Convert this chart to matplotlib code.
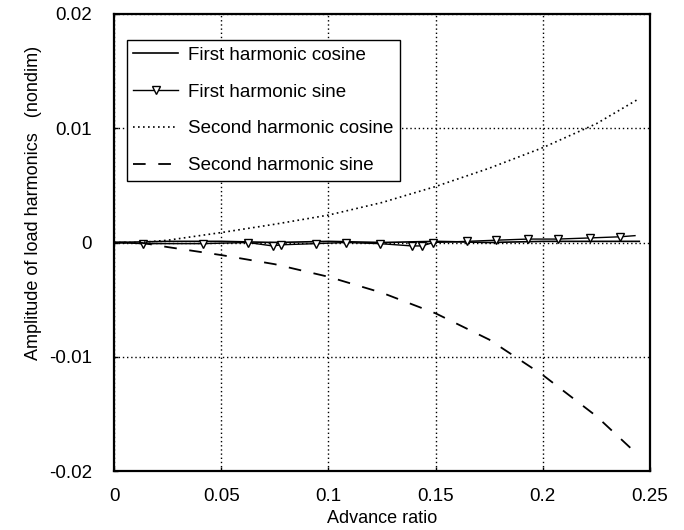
import matplotlib
matplotlib.use("Agg")
import matplotlib.pyplot as plt

plt.rcParams["font.family"] = ["Liberation Sans", "DejaVu Sans"]

# First harmonic cosine (solid)
mu_c1 = [0.0, 0.025, 0.05, 0.075, 0.1, 0.125, 0.15, 0.175, 0.2, 0.225, 0.245]
c1 = [0.0, 0.0001, 0.0001, 0.0, 0.0001, 0.0, 0.0001, 0.0, 0.0001, 0.0001, 0.0001]

# First harmonic sine (line with open triangles)
mu_s1 = [0.0, 0.0135, 0.0415, 0.0624, 0.074, 0.078, 0.094, 0.108, 0.124, 0.139,
         0.1435, 0.149, 0.1645, 0.178, 0.193, 0.207, 0.222, 0.236, 0.243]
s1 = [0.0, -0.0001, -0.0001, 0.0, -0.0003, -0.0002, -0.0001, 0.0, -0.0001, -0.0003,
      -0.0003, 0.0, 0.0001, 0.0002, 0.0003, 0.0003, 0.0004, 0.0005, 0.0006]

# Second harmonic cosine (dotted) and sine (dashed)
mu_2 = [0.0, 0.012, 0.025, 0.05, 0.075, 0.1, 0.125, 0.15, 0.175, 0.2, 0.225, 0.245]
c2 = [0.0, 0.0, 0.0002, 0.00087, 0.0016, 0.0024, 0.0035, 0.0049, 0.0065, 0.0083, 0.0104, 0.0126]
s2 = [0.0, 0.0, -0.0004, -0.0011, -0.0019, -0.003, -0.0044, -0.0062, -0.0085, -0.0116, -0.0152, -0.0187]

xticks = [0, 0.05, 0.1, 0.15, 0.2, 0.25]
xticklabels = ["0", "0.05", "0.1", "0.15", "0.2", "0.25"]
yticks = [-0.02, -0.01, 0, 0.01, 0.02]
yticklabels = ["-0.02", "-0.01", "0", "0.01", "0.02"]

fig = plt.figure(figsize=(6.84, 5.30), dpi=100)
ax = fig.add_axes([0.1667, 0.1113, 0.7836, 0.8623])

ax.plot(mu_c1, c1, color="black", lw=1.2, label="First harmonic cosine")
ax.plot(mu_s1, s1, color="black", lw=1.0, marker="v", markersize=6,
        markerfacecolor="white", markeredgecolor="black", markeredgewidth=1.0,
        markevery=list(range(1, len(mu_s1) - 1)), label="First harmonic sine")
ax.plot(mu_2, c2, color="black", lw=1.2, linestyle=(0, (1, 2)),
        label="Second harmonic cosine")
ax.plot(mu_2, s2, color="black", lw=1.3, linestyle=(0, (7, 7)),
        label="Second harmonic sine")

ax.set_xlim(0, 0.25)
ax.set_ylim(-0.02, 0.02)
ax.set_xticks(xticks)
ax.set_xticklabels(xticklabels)
ax.set_yticks(yticks)
ax.set_yticklabels(yticklabels)
ax.tick_params(axis="both", direction="in", length=3, width=1, labelsize=13.5)
ax.tick_params(axis="y", pad=16)
ax.tick_params(axis="x", pad=12)
ax.grid(True, color="black", linestyle=(0, (1, 2)), linewidth=1.0)
for sp in ax.spines.values():
    sp.set_linewidth(1.6)

ax.set_xlabel("Advance ratio", fontsize=13, labelpad=4)
ax.set_ylabel("Amplitude of load harmonics   (nondim)", fontsize=13)
ax.yaxis.set_label_coords(-0.134, 0.586)

leg = ax.legend(loc="upper left", bbox_to_anchor=(0.024, 0.943), borderaxespad=0,
                fontsize=13.5, handlelength=2.4, handletextpad=0.5, labelspacing=1.05,
                borderpad=0.35, fancybox=False, framealpha=1, edgecolor="black")
leg.get_frame().set_linewidth(1.0)

fig.savefig("out.png", dpi=100)
